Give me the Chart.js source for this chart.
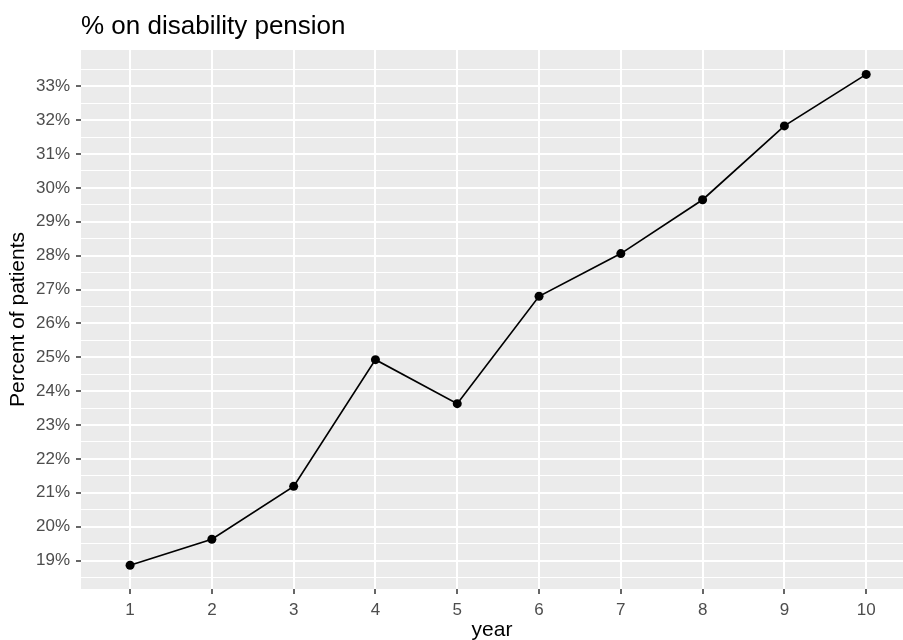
<!DOCTYPE html>
<html>
<head>
<meta charset="utf-8">
<script src="https://cdn.jsdelivr.net/npm/chart.js@4"></script>
<style>
  html, body { margin: 0; padding: 0; background: #ffffff; }
  #wrap { width: 903px; height: 640px; }
</style>
</head>
<body>
<div id="wrap"><canvas id="c" width="903" height="640"></canvas></div>
<script>
// ---- data ----
const chartTitle = "% on disability pension";
const xAxisTitle = "year";
const yAxisTitle = "Percent of patients";
const years = [1, 2, 3, 4, 5, 6, 7, 8, 9, 10];
const pctOnPension = [18.86, 19.63, 21.19, 24.93, 23.63, 26.80, 28.06, 29.65, 31.83, 33.35];
const yMajorTicks = [19, 20, 21, 22, 23, 24, 25, 26, 27, 28, 29, 30, 31, 32, 33];
const yMinorTicks = [18.5, 19.5, 20.5, 21.5, 22.5, 23.5, 24.5, 25.5, 26.5, 27.5, 28.5, 29.5, 30.5, 31.5, 32.5, 33.5];
const xTickLabels = ["1", "2", "3", "4", "5", "6", "7", "8", "9", "10"];

const FONT = "'Liberation Sans', Arial, Helvetica, sans-serif";
const allYTicks = yMajorTicks.concat(yMinorTicks).sort((a, b) => a - b);
const isMajorY = v => yMajorTicks.some(m => Math.abs(m - v) < 1e-6);

const panelPlugin = {
  id: 'panel',
  beforeDraw(chart) {
    const { ctx, chartArea: a } = chart;
    ctx.save();
    ctx.fillStyle = '#ffffff';
    ctx.fillRect(0, 0, chart.width, chart.height);
    ctx.fillStyle = '#EBEBEB';
    ctx.fillRect(a.left, a.top, a.right - a.left, a.bottom - a.top);
    ctx.restore();
  },
  afterDraw(chart) {
    const { ctx, chartArea: a } = chart;
    ctx.save();
    ctx.fillStyle = '#000000';
    ctx.font = "26px " + FONT;
    ctx.textAlign = 'left';
    ctx.textBaseline = 'alphabetic';
    ctx.fillText(chartTitle, a.left, 34);
    ctx.restore();
  }
};

new Chart(document.getElementById('c'), {
  type: 'line',
  data: {
    datasets: [{
      data: years.map((y, i) => ({ x: y, y: pctOnPension[i] })),
      borderColor: '#000000',
      backgroundColor: '#000000',
      borderWidth: 1.7,
      pointRadius: 4.5,
      pointHoverRadius: 4.5,
      pointBorderWidth: 0,
      pointBackgroundColor: '#000000',
      tension: 0,
      fill: false
    }]
  },
  options: {
    responsive: false,
    animation: false,
    devicePixelRatio: 1,
    layout: { autoPadding: false, padding: { top: 50, right: 0, bottom: 0, left: 0 } },
    plugins: {
      legend: { display: false },
      tooltip: { enabled: false },
      title: { display: false }
    },
    scales: {
      x: {
        type: 'linear',
        min: 0.4,
        max: 10.45,
        afterBuildTicks(scale) { scale.ticks = years.map(v => ({ value: v })); },
        afterFit(scale) { scale.height = 51; scale.paddingLeft = 0; scale.paddingRight = 0; },
        border: { display: false },
        grid: {
          color: '#ffffff',
          lineWidth: 2,
          drawTicks: true,
          tickLength: 5,
          tickColor: '#333333',
          tickWidth: 1.5
        },
        ticks: {
          autoSkip: false,
          maxRotation: 0,
          padding: 6,
          color: '#4D4D4D',
          font: { family: FONT, size: 17 },
          callback: (v, i) => xTickLabels[i]
        },
        title: {
          display: true,
          text: xAxisTitle,
          color: '#000000',
          font: { family: FONT, size: 21, lineHeight: 1 },
          padding: { top: 0, bottom: -1 }
        }
      },
      y: {
        type: 'linear',
        min: 18.16,
        max: 34.07,
        afterBuildTicks(scale) { scale.ticks = allYTicks.map(v => ({ value: v })); },
        afterFit(scale) { scale.width = 81; scale.paddingTop = 0; scale.paddingBottom = 0; },
        border: { display: false },
        grid: {
          color: '#ffffff',
          lineWidth: ctx => (ctx.tick && isMajorY(ctx.tick.value)) ? 2 : 1,
          drawTicks: true,
          tickLength: 5,
          tickColor: ctx => (ctx.tick && isMajorY(ctx.tick.value)) ? '#333333' : 'rgba(0,0,0,0)',
          tickWidth: 1.5
        },
        ticks: {
          autoSkip: false,
          padding: 6,
          color: '#4D4D4D',
          font: { family: FONT, size: 17 },
          callback: v => isMajorY(v) ? (Math.round(v) + '%') : ''
        },
        title: {
          display: true,
          text: yAxisTitle,
          color: '#000000',
          font: { family: FONT, size: 21, lineHeight: 1 },
          padding: { top: 8, bottom: 0 }
        }
      }
    }
  },
  plugins: [panelPlugin]
});
</script>
</body>
</html>
